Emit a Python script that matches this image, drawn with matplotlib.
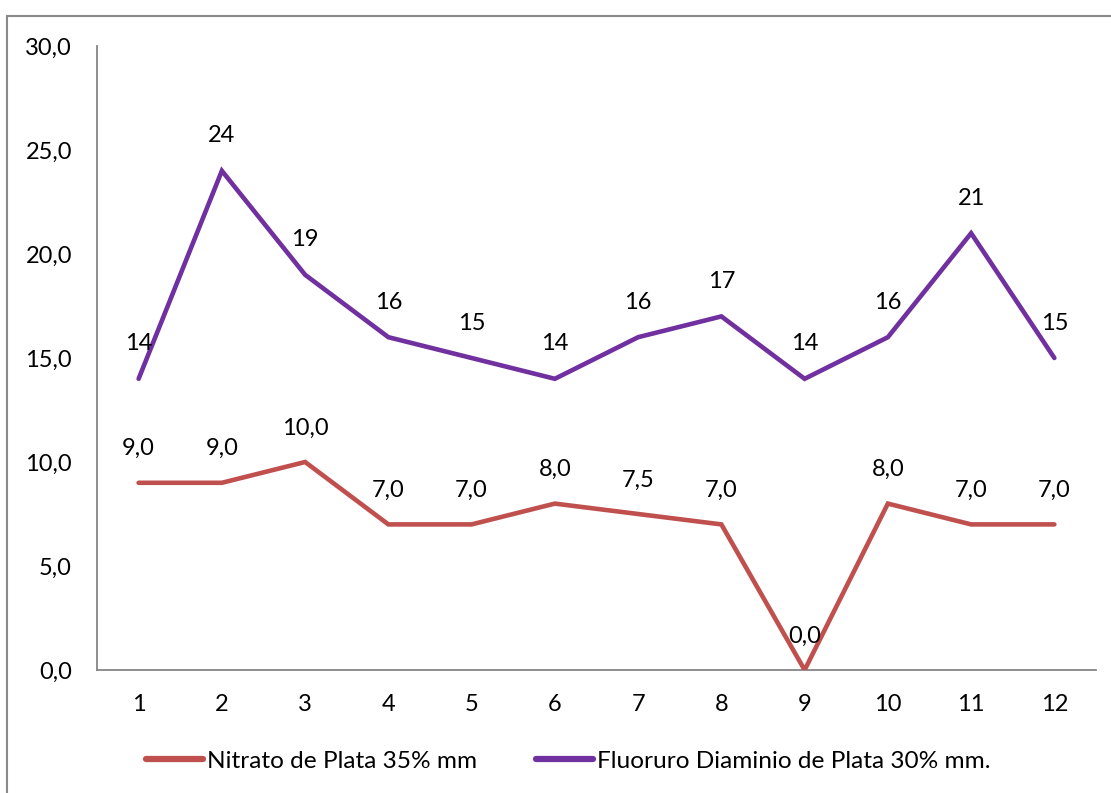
import matplotlib
matplotlib.use("Agg")
import matplotlib.pyplot as plt
from matplotlib.patches import Rectangle
from matplotlib.lines import Line2D

categories = ["1", "2", "3", "4", "5", "6", "7", "8", "9", "10", "11", "12"]
nitrato = [9.0, 9.0, 10.0, 7.0, 7.0, 8.0, 7.5, 7.0, 0.0, 8.0, 7.0, 7.0]
fluoruro = [14, 24, 19, 16, 15, 14, 16, 17, 14, 16, 21, 15]
series_names = ["Nitrato de Plata 35% mm", "Fluoruro Diaminio de Plata 30% mm."]
y_ticks = [0, 5, 10, 15, 20, 25, 30]

plt.rcParams['font.family'] = ['Lato', 'DejaVu Sans']
FS = 17
LFS = 17.6
red = "#C0504D"
purple = "#7030A0"
axis_gray = "#868686"

fig = plt.figure(figsize=(11.11, 7.93), dpi=100)
fig.patches.append(Rectangle((7/1111, -0.1), 1.2, 1 - 16/793 + 0.1, transform=fig.transFigure,
                             fill=False, edgecolor="#8a8a8a", linewidth=1.5))
ax = fig.add_axes([97/1111, 1 - 670/793, (1096 - 97)/1111, (670 - 46)/793])

x = list(range(len(categories)))
ax.plot(x, nitrato, color=red, lw=3.3, solid_capstyle='round', solid_joinstyle='miter',
        label=series_names[0], zorder=3)
ax.plot(x, fluoruro, color=purple, lw=3.3, solid_capstyle='round', solid_joinstyle='miter',
        label=series_names[1], zorder=3)

for xi, v in zip(x, nitrato):
    ax.annotate(f"{v:.1f}".replace(".", ","), (xi, v), xytext=(0, 34), textcoords='offset pixels',
                ha='center', va='center', fontsize=FS, color='black')
for xi, v in zip(x, fluoruro):
    ax.annotate(f"{v:d}", (xi, v), xytext=(0, 35), textcoords='offset pixels',
                ha='center', va='center', fontsize=FS, color='black')

ax.set_xlim(-0.5, len(categories) - 0.5)
ax.set_ylim(0, 30)
ax.set_yticks(y_ticks)
ax.set_yticklabels([f"{t:.1f}".replace(".", ",") for t in y_ticks], fontsize=FS)
ax.set_xticks(x)
ax.set_xticklabels(categories, fontsize=FS)
ax.tick_params(axis='y', length=0, pad=18)
ax.tick_params(axis='x', length=0, pad=17)

for s in ['top', 'right']:
    ax.spines[s].set_visible(False)
for s in ['left', 'bottom']:
    ax.spines[s].set_color(axis_gray)
    ax.spines[s].set_linewidth(1.3)

handles = [Line2D([], [], color=red, lw=4.5, solid_capstyle='round'),
           Line2D([], [], color=purple, lw=4.5, solid_capstyle='round')]
fig.legend(handles, series_names, loc='center', bbox_to_anchor=(0.5115, 1 - 761/793),
           ncol=2, frameon=False, fontsize=LFS, handlelength=2.3, handletextpad=0.17,
           columnspacing=2.43)

fig.savefig("out.png", dpi=100)
